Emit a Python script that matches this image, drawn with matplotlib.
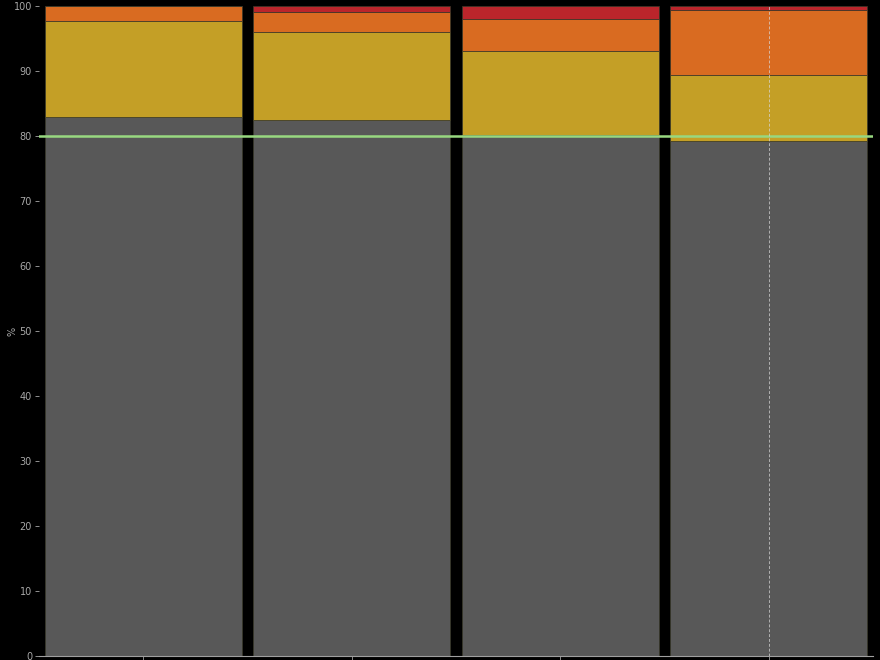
import matplotlib
matplotlib.use('Agg')
import matplotlib.pyplot as plt
import numpy as np

# stacked shares per bar (%)
categories = ['A', 'B', 'C', 'D']
gray_vals = [82.9, 82.4, 80.1, 79.3]
yellow_vals = [14.8, 13.6, 13.0, 10.1]
orange_vals = [2.3, 3.1, 4.9, 10.0]
red_vals = [0.0, 0.9, 2.0, 0.6]
target = 80
highlight = 3

series = [
    (gray_vals, '#585858'),
    (yellow_vals, '#c49f26'),
    (orange_vals, '#d96b21'),
    (red_vals, '#bb252b'),
]

fig = plt.figure(figsize=(8.8, 6.6), dpi=100, facecolor='black')
ax = fig.add_axes([0.0443, 0.006, 0.9477, 0.985])
ax.set_facecolor('black')

x = np.arange(len(categories))
bottom = np.zeros(len(categories))
for vals, col in series:
    ax.bar(x, vals, bottom=bottom, width=0.945, color=col,
           edgecolor='#3a3a2a', linewidth=0.5, zorder=2)
    bottom += np.array(vals)

ax.axhline(target, color='#98d880', linewidth=1.8, zorder=3)
ax.axvline(x[highlight], color='#d8d8d8', linewidth=0.7, linestyle=(0, (3, 2)),
           alpha=0.7, zorder=4)

ax.set_xlim(-0.5, 3.5)
ax.set_ylim(0, 100)
ax.set_yticks(range(0, 101, 10))
ax.set_xticks(x)
ax.set_xticklabels([])
ax.tick_params(axis='y', colors='#a8a8a8', labelsize=7, length=3, width=0.6, pad=2)
ax.tick_params(axis='x', colors='#a0a0a0', length=3, width=0.6)
ax.set_ylabel('%', color='#a8a8a8', fontsize=7)
ax.yaxis.set_label_coords(-0.026, 0.5)

for s in ['top', 'right', 'left']:
    ax.spines[s].set_visible(False)
ax.spines['bottom'].set_color('#a0a0a0')
ax.spines['bottom'].set_linewidth(0.8)

fig.savefig('out.png', dpi=100, facecolor='black')
